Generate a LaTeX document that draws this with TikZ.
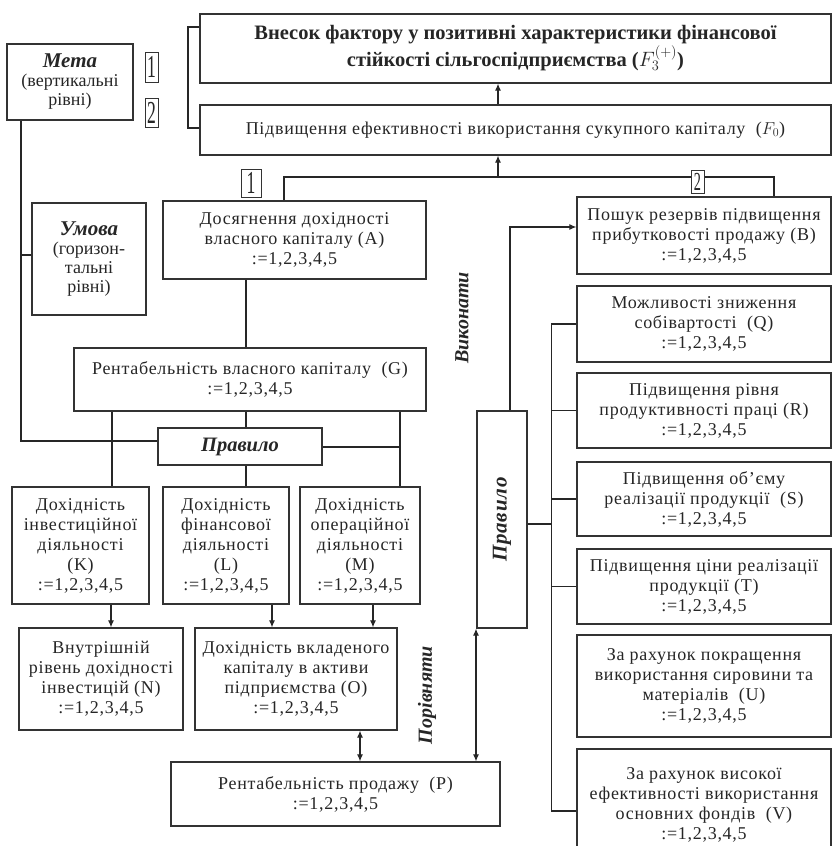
\documentclass[tikz,border=0pt]{standalone}
\usepackage{fontspec}
\setmainfont{Liberation Serif}
\newfontfamily\boxfont{Liberation Serif}[LetterSpace=4]
\usetikzlibrary{arrows.meta}

\tikzset{
  blok/.style={draw=black!80, line width=1.3pt, align=center, inner sep=0pt,
    text=black!85, font=\boxfont\fontsize{18}{20}\selectfont},
  wh/.style 2 args={minimum width=#1pt, minimum height=#2pt},
  num/.style={draw=black!80, fill=white, line width=1pt, inner sep=0pt,
    text=black!85, font=\fontsize{32}{32}\selectfont},
  lnk/.style={line width=1.1pt, draw=black!85},
  arr/.style={lnk, -{Latex[length=7pt,width=6pt]}},
  darr/.style={lnk, {Latex[length=7pt,width=6pt]}-{Latex[length=7pt,width=6pt]}},
  sign/.style={text=black!85, font=\fontsize{20}{22}\selectfont\bfseries\itshape},
}
\newcommand\dig[1]{\scalebox{0.55}[1]{#1}}

\begin{document}
\begin{tikzpicture}[x=1pt,y=-1pt]
	%%%%% START %%%%%
	\useasboundingbox[fill=white] (0,0) rectangle (832,846);
	
	\node[blok, wh={631}{69}, font=\fontsize{20.5}{27}\selectfont\bfseries] (F3) at (515.5,48.5) {Внесок фактору у позитивні характеристики фінансової\\стійкості сільгоспідприємства ($F_3^{(+)}$)};
	\node[blok, wh={631}{50}] (F0) at (515.5,130) {Підвищення ефективності використання сукупного капіталу~~($F_0$)};
	
	\node[blok, wh={126}{76}, font=\fontsize{18}{19}\selectfont] (meta) at (70,82) {{\fontsize{21}{22}\selectfont\bfseries\itshape Мета}\\(вертикальні\\рівні)};
	\node[num, wh={13}{30}] (m1) at (151.5,67) {\dig{1}};
	\node[num, wh={13}{29}] (m2) at (151.5,112.5) {\dig{2}};
	\node[blok, wh={114}{112}, font=\fontsize{18}{19}\selectfont] (umova) at (89,259) {{\fontsize{21}{25}\selectfont\bfseries\itshape Умова}\\(горизон-\\тальні\\рівні)};
	
	\node[blok, wh={263}{78}] (A) at (294.5,240) {Досягнення дохідності\\власного капіталу (A)\\:=1,2,3,4,5};
	\node[blok, wh={352}{63}] (G) at (250,379.5) {Рентабельність власного капіталу~~(G)\\:=1,2,3,4,5};
	\node[blok, wh={164}{37}, font=\fontsize{20.5}{22}\selectfont\bfseries\itshape] (prav) at (240,446.5) {Правило};
	
	\node[blok, wh={137}{117}] (K) at (80.5,545.5) {Дохідність\\інвестиційної\\діяльності\\(K)\\:=1,2,3,4,5};
	\node[blok, wh={126}{117}] (L) at (226,545.5) {Дохідність\\фінансової\\діяльності\\(L)\\:=1,2,3,4,5};
	\node[blok, wh={120}{117}] (M) at (360,545.5) {Дохідність\\операційної\\діяльності\\(M)\\:=1,2,3,4,5};
	\node[blok, wh={164}{102}] (N) at (101,679) {Внутрішній\\рівень дохідності\\інвестицій (N)\\:=1,2,3,4,5};
	\node[blok, wh={202}{102}] (O) at (296,679) {Дохідність вкладеного\\капіталу в активи\\підприємства (O)\\:=1,2,3,4,5};
	\node[blok, wh={329}{64}] (P) at (335.5,794) {Рентабельність продажу~~(P)\\:=1,2,3,4,5};
	
	\node[blok, wh={50}{217}] (rule) at (502,519.5) {\rotatebox{90}{\fontsize{21}{22}\selectfont\bfseries\itshape Правило}};
	\node[sign, rotate=90] (vyk) at (462,318) {Виконати};
	\node[sign, rotate=90] (por) at (427,695) {Порівняти};
	
	\node[blok, wh={254}{77}] (B) at (704,235.5) {Пошук резервів підвищення\\прибутковості продажу (B)\\:=1,2,3,4,5};
	\node[blok, wh={254}{76}] (Q) at (704,324) {Можливості зниження\\собівартості~~(Q)\\:=1,2,3,4,5};
	\node[blok, wh={254}{75}] (R) at (704,410.5) {Підвищення рівня\\продуктивності праці (R)\\:=1,2,3,4,5};
	\node[blok, wh={254}{74}] (S) at (704,499) {Підвищення об’єму\\реалізації продукції~~(S)\\:=1,2,3,4,5};
	\node[blok, wh={254}{75}] (T) at (704,586.5) {Підвищення ціни реалізації\\продукції (T)\\:=1,2,3,4,5};
	\node[blok, wh={254}{102}] (U) at (704,686) {За рахунок покращення\\використання сировини та\\матеріалів~~(U)\\:=1,2,3,4,5};
	\node[blok, wh={254}{111}] (V) at (704,804.5) {За рахунок високої\\ефективності використання\\основних фондів~~(V)\\:=1,2,3,4,5};
	
	% top
	\draw[lnk] (F3.west |- 0,27) -- (188,27) -- (188,128) -- (F0.west |- 0,128);
	\draw[arr] (F0.north -| 498,0) -- (F3.south -| 498,0);
	\draw[lnk] (A.north -| 284,0) -- (284,177) -- (774,177) -- (B.north -| 774,0);
	\draw[arr] (498,177) -- (F0.south -| 498,0);
	\node[num, wh={20}{28}] (c1) at (251,183) {\dig{1}};
	\node[num, wh={13}{23}, font=\fontsize{26}{26}\selectfont] (c2) at (697.5,181.5) {\dig{2}};
	
	% left
	\draw[lnk] (meta.south -| 21,0) -- (21,441) -- (prav.west |- 0,441);
	\draw[lnk] (21,255) -- (umova.west |- 0,255);
	\draw[lnk] (A.south -| 246,0) -- (G.north -| 246,0);
	\draw[lnk] (G.south -| 112,0) -- (K.north -| 112,0);
	\draw[lnk] (G.south -| 246,0) -- (prav.north -| 246,0);
	\draw[lnk] (prav.south -| 246,0) -- (L.north -| 246,0);
	\draw[lnk] (G.south -| 400,0) -- (M.north -| 400,0);
	\draw[lnk] (prav.east |- 0,447) -- (400,447);
	\draw[arr] (K.south -| 111,0) -- (N.north -| 111,0);
	\draw[arr] (L.south -| 272,0) -- (O.north -| 272,0);
	\draw[arr] (M.south -| 373,0) -- (O.north -| 373,0);
	\draw[darr] (O.south -| 360,0) -- (P.north -| 360,0);
	
	% right
	\draw[darr] (P.north -| 476,0) -- (rule.south -| 476,0);
	\draw[arr] (rule.north -| 510,0) |- (B.west |- 0,227);
	\draw[lnk] (rule.east |- 0,524) -- (552,524);
	\draw[lnk] (Q.west) -- ++(-25,0) |- (V.west |- 0,811);
	\draw[lnk] (R.west) -- ++(-25,0);
	\draw[lnk] (S.west) -- ++(-25,0);
	\draw[lnk, line width=0.6pt] (T.west) -- ++(-25,0);
	
	%%%%% END %%%%%
\end{tikzpicture}
\end{document}
